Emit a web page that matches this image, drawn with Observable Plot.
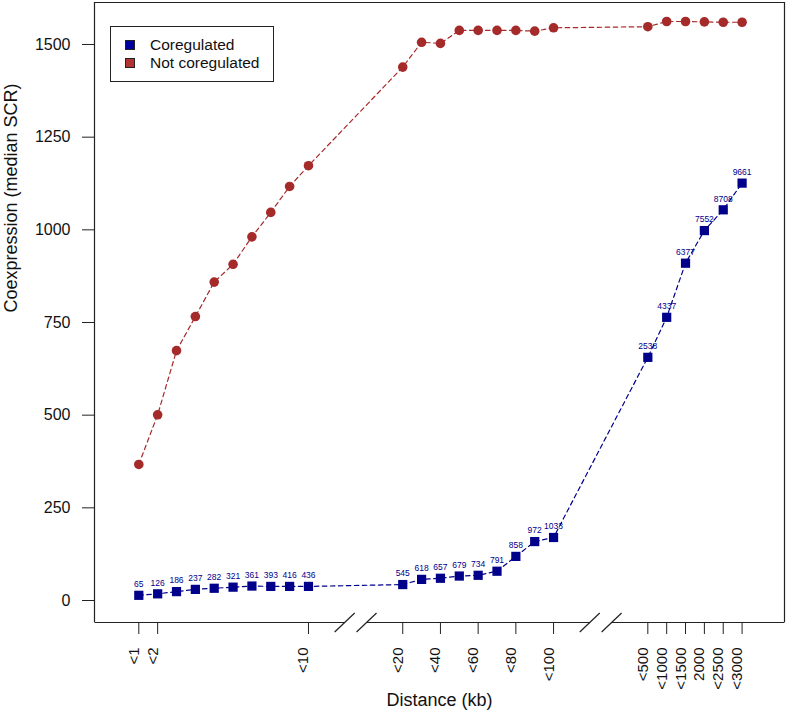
<!DOCTYPE html>
<html>
<head>
<meta charset="utf-8">
<script src="https://cdn.jsdelivr.net/npm/d3@7"></script>
<script src="https://cdn.jsdelivr.net/npm/@observablehq/plot@0.6"></script>
<style>
  body { margin: 0; background: #fff; }
  #wrap { position: relative; width: 788px; height: 720px; font-family: "Liberation Sans", Arial, sans-serif; }
  #legend { position: absolute; left: 110px; top: 26px; width: 164px; height: 56px; border: 1px solid #222; background: #fff; box-sizing: border-box; font-size: 15.5px; color: #111; }
  .item { position: absolute; left: 14px; height: 18px; display: flex; align-items: center; }
  .sw { width: 10px; height: 10px; border: 1px solid #222; box-sizing: border-box; margin-right: 15px; }
</style>
</head>
<body>
<div id="wrap">
  <div id="chart"></div>
  <div id="legend">
    <div class="item" style="top:9px"><span class="sw" style="background:#0000a0"></span>Coregulated</div>
    <div class="item" style="top:27px"><span class="sw" style="background:#b03232"></span>Not coregulated</div>
  </div>
</div>
<script>
// Distance categories (kb)
const distances = [1,2,3,4,5,6,7,8,9,10,20,30,40,50,60,70,80,90,100,500,1000,1500,2000,2500,3000];
// Coregulated median SCR
const coregulated = [14,18,24,30,33,36,39,38,38,38,43,57,60,66,68,79,119,159,170,656,764,910,998,1054,1126];
// Number of pairs (labels above coregulated points)
const pairCounts = [65,126,186,237,282,321,361,393,416,436,545,618,657,679,734,791,858,972,1033,2538,4337,6377,7552,8708,9661];
// Not coregulated median SCR
const notCoregulated = [367,501,674,766,859,907,981,1047,1117,1173,1439,1506,1503,1538,1538,1538,1538,1536,1545,1548,1562,1562,1561,1560,1560];
// Labelled ticks
const tickDistances = [1,2,10,20,40,60,80,100,500,1000,1500,2000,2500,3000];
const tickLabels = ["<1","<2","<10","<20","<40","<60","<80","<100","<500","<1000","<1500","2000","<2500","<3000"];
const yTicks = [0,250,500,750,1000,1250,1500];

// broken-axis position of a distance
function pos(d) {
  if (d <= 10) return d - 1;
  if (d <= 100) return 14 + (d - 20) / 10;
  return 27 + (d - 500) / 500;
}
const breaks = [11.5, 24.5];
const xDomain = [-2.35, 34.25];
const yDomain = [-59.35, 1613.3];

const blue = "#00008b";
const red = "#a52a2a";
const dash = "4.5,3.5";

const blueData = distances.map((d, i) => ({x: pos(d), y: coregulated[i], n: pairCounts[i]}));
const redData = distances.map((d, i) => ({x: pos(d), y: notCoregulated[i]}));
const ticks = tickDistances.map((d, i) => ({x: pos(d), label: tickLabels[i]}));

// bottom frame segments with gaps at breaks
const gapHalf = 0.58;
const segs = [];
let start = xDomain[0];
for (const b of breaks) { segs.push({x1: start, x2: b - gapHalf}); start = b + gapHalf; }
segs.push({x1: start, x2: xDomain[1]});
const slashDx = 0.53, slashDy = 25.6;
const slashes = [];
for (const b of breaks) for (const s of [-gapHalf, gapHalf]) {
  slashes.push({x1: b + s - slashDx, y1: yDomain[0] - slashDy, x2: b + s + slashDx, y2: yDomain[0] + slashDy});
}

const chart = Plot.plot({
  width: 788,
  height: 720,
  marginLeft: 94,
  marginRight: 4,
  marginTop: 2,
  marginBottom: 98,
  style: {fontFamily: '"Liberation Sans", Arial, sans-serif', background: "#fff", color: "#111"},
  x: {type: "linear", domain: xDomain, axis: null},
  y: {domain: yDomain, axis: null},
  marks: [
    // frame: left, right, top
    Plot.ruleX([xDomain[0], xDomain[1]], {stroke: "#222", strokeWidth: 1.2}),
    Plot.ruleY([yDomain[1]], {stroke: "#222", strokeWidth: 1.2}),
    Plot.link(segs, {x1: "x1", x2: "x2", y1: () => yDomain[0], y2: () => yDomain[0], stroke: "#222", strokeWidth: 1.2}),
    Plot.link(slashes, {x1: "x1", y1: "y1", x2: "x2", y2: "y2", stroke: "#222", strokeWidth: 1.2}),
    // y axis
    Plot.axisY(yTicks, {tickSize: 12, tickPadding: 12, fontSize: 16, label: null, stroke: "#222", tickFormat: d => String(d)}),
    // x axis ticks (no labels) and rotated labels
    Plot.axisX(ticks.map(t => t.x), {tickSize: 12, tickFormat: () => "", label: null, stroke: "#222"}),
    Plot.text(ticks, {x: "x", frameAnchor: "bottom", dy: 25, text: "label", rotate: -90, textAnchor: "end", fontSize: 15, fill: "#111"}),
    // axis titles
    Plot.text(["Distance (kb)"], {frameAnchor: "bottom", dy: 83, fontSize: 18, fill: "#111"}),
    Plot.text(["Coexpression (median SCR)"], {frameAnchor: "left", dx: -83, rotate: -90, fontSize: 18, fill: "#111"}),
    // series
    Plot.line(redData, {x: "x", y: "y", stroke: red, strokeWidth: 1.2, strokeDasharray: dash}),
    Plot.line(blueData, {x: "x", y: "y", stroke: blue, strokeWidth: 1.2, strokeDasharray: dash}),
    Plot.dot(redData, {x: "x", y: "y", r: 4.8, fill: red}),
    Plot.dot(blueData, {x: "x", y: "y", symbol: "square", r: 5.2, fill: blue}),
    Plot.text(blueData, {x: "x", y: "y", text: d => String(d.n), dy: -11, fontSize: 8.5, fill: blue})
  ]
});
document.getElementById("chart").appendChild(chart);
</script>
</body>
</html>
